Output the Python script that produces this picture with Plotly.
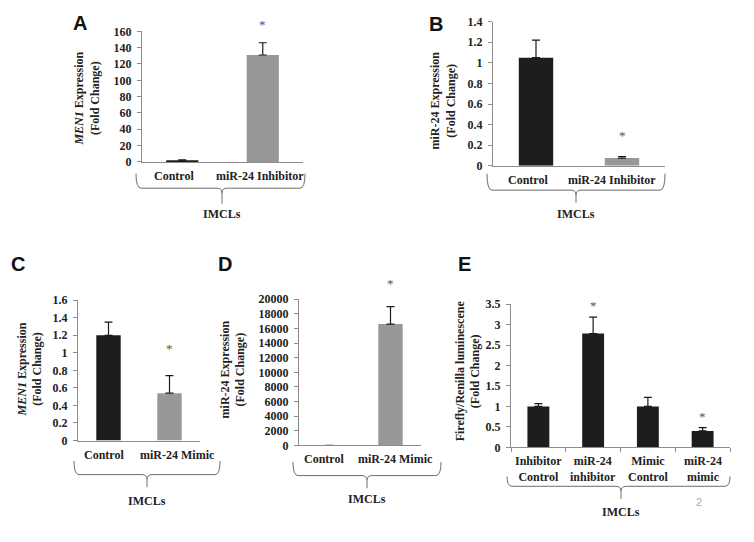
import plotly.graph_objects as go

W, H = 754, 542

# ---------------- data ----------------
a_cats = ["Control", "miR-24 Inhibitor"]
a_vals = [1.9, 131]
a_err = [0.6, 15]

b_cats = ["Control", "miR-24 Inhibitor"]
b_vals = [1.05, 0.075]
b_err = [0.17, 0.015]

c_cats = ["Control", "miR-24 Mimic"]
c_vals = [1.2, 0.54]
c_err = [0.15, 0.2]

d_cats = ["Control", "miR-24 Mimic"]
d_vals = [15, 16600]
d_err = [5, 2400]

e_cats = ["Inhibitor<br>Control", "miR-24<br>inhibitor", "Mimic<br>Control", "miR-24<br>mimic"]
e_vals = [1.0, 2.78, 1.0, 0.4]
e_err = [0.07, 0.4, 0.22, 0.08]

# significance markers (True => asterisk)
a_sig = [False, True]
b_sig = [False, True]
c_sig = [False, True]
d_sig = [False, True]
e_sig = [False, True, False, True]

y_ticks_a = [0, 20, 40, 60, 80, 100, 120, 140, 160]
y_ticks_b = [0, 0.2, 0.4, 0.6, 0.8, 1, 1.2, 1.4]
y_ticks_c = [0, 0.2, 0.4, 0.6, 0.8, 1, 1.2, 1.4, 1.6]
y_ticks_d = [0, 2000, 4000, 6000, 8000, 10000, 12000, 14000, 16000, 18000, 20000]
y_ticks_e = [0, 0.5, 1, 1.5, 2, 2.5, 3, 3.5]

BLACK = "#1f1c1d"
GRAY = "#989898"

# --------------- layout helpers (pixel -> paper) ---------------
def px(x):
    return x / W

def py(y):
    return 1 - y / H

SERIF = "Liberation Serif, Times New Roman, serif"
SANS = "Liberation Sans, Arial, sans-serif"

panels = [
    dict(letter="A", cats=a_cats, vals=a_vals, err=a_err, sig=a_sig,
         colors=[BLACK, GRAY], ticks=y_ticks_a, rng=[0, 160],
         box=(142, 303, 25, 159), title="<i>MEN1</i> Expression<br>(Fold Change)",
         title_xy=(87, 94), letter_xy=(80, 16), star_shift=9, lab_shift=[-8, -3],
         brace=(136, 305, 171, 186, 222, 202), imcl_y=213, xticks=False),
    dict(letter="B", cats=b_cats, vals=b_vals, err=b_err, sig=b_sig,
         colors=[BLACK, GRAY], ticks=y_ticks_b, rng=[0, 1.4],
         box=(493, 665, 15, 163), title="miR-24 Expression<br>(Fold Change)",
         title_xy=(443, 96), letter_xy=(436, 17), star_shift=12, lab_shift=[-8, -10],
         brace=(487, 665, 171, 188, 576, 201), imcl_y=213, xticks=False),
    dict(letter="C", cats=c_cats, vals=c_vals, err=c_err, sig=c_sig,
         colors=[BLACK, GRAY], ticks=y_ticks_c, rng=[0, 1.6],
         box=(78, 200, 301, 445), title="<i>MEN1</i> Expression<br>(Fold Change)",
         title_xy=(30, 372), letter_xy=(18, 264), star_shift=18, lab_shift=[-5, 8],
         brace=(74, 220, 466, 480, 147, 493), imcl_y=507, xticks=False),
    dict(letter="D", cats=d_cats, vals=d_vals, err=d_err, sig=d_sig,
         colors=[BLACK, GRAY], ticks=y_ticks_d, rng=[0, 20000],
         box=(299, 421, 300, 450), title="miR-24 Expression<br>(Fold Change)",
         title_xy=(233, 372), letter_xy=(225, 264), star_shift=14, lab_shift=[-6, 5],
         brace=(293, 441, 467, 481, 367, 494), imcl_y=505, xticks=False),
    dict(letter="E", cats=e_cats, vals=e_vals, err=e_err, sig=e_sig,
         colors=[BLACK] * 4, ticks=y_ticks_e, rng=[0, 3.5],
         box=(511, 730, 305, 452), title="Firefly/Renilla luminescene<br>(Fold Change)",
         title_xy=(468, 374), letter_xy=(464, 264), star_shift=2, lab_shift=[0, 0, 0, 0],
         brace=(507, 730, 482, 492, 621, 505), imcl_y=518, xticks=True),
]

fig = go.Figure()
annotations = []
shapes = []

for i, p in enumerate(panels):
    n = i + 1
    xa = "x" if n == 1 else f"x{n}"
    ya = "y" if n == 1 else f"y{n}"
    xl, xr, yt, yb = p["box"]
    lo = [0] * len(p["vals"])
    fig.add_trace(go.Bar(
        x=p["cats"], y=p["vals"], xaxis=xa, yaxis=ya,
        marker=dict(color=p["colors"], line=dict(width=0)),
        width=0.4,
        error_y=dict(type="data", symmetric=False, array=p["err"], arrayminus=lo,
                     color="#1a1a1a", thickness=1.2, width=4),
        showlegend=False, hoverinfo="x+y",
    ))
    axis_common = dict(showgrid=False, zeroline=False, showline=True,
                       linecolor="#8c8c8c", linewidth=1)
    fig.layout[f"xaxis{n if n > 1 else ''}"] = dict(
        domain=[px(xl), px(xr)], anchor=ya, type="category",
        range=[-0.5, len(p["cats"]) - 0.5],
        ticks="outside" if p["xticks"] else "", tickson="boundaries",
        ticklen=4, tickcolor="#8c8c8c", showticklabels=False,
        **axis_common)
    fig.layout[f"yaxis{n if n > 1 else ''}"] = dict(
        domain=[py(yb), py(yt)], anchor=xa, range=p["rng"],
        tickmode="array", tickvals=p["ticks"], tickformat="d" if n == 4 else "",
        ticks="outside", ticklen=4, tickcolor="#8c8c8c", ticklabelstandoff=3,
        tickfont=dict(family=SERIF, size=12, color="#222", weight="bold"),
        **axis_common)
    # category labels (as annotations so they can be nudged like the original)
    for c, sh in zip(p["cats"], p["lab_shift"]):
        annotations.append(dict(
            x=c, y=0, xref=xa, yref=ya, text=c, showarrow=False,
            xanchor="center", yanchor="top", yshift=-5, xshift=sh,
            font=dict(family=SERIF, size=12, color="#222", weight="bold")))
    # asterisks above significant bars
    for c, v, e, s in zip(p["cats"], p["vals"], p["err"], p["sig"]):
        if s:
            annotations.append(dict(
                x=c, y=v + e, xref=xa, yref=ya, text="*", showarrow=False,
                yanchor="bottom", yshift=p["star_shift"],
                font=dict(family=SERIF, size=13, color="#555")))
    # y-axis title
    tx, ty = p["title_xy"]
    annotations.append(dict(
        x=px(tx), y=py(ty), xref="paper", yref="paper", text=p["title"],
        textangle=-90, showarrow=False, xanchor="center", yanchor="middle",
        font=dict(family=SERIF, size=12, color="#222", weight="bold")))
    # panel letter
    lx, ly = p["letter_xy"]
    annotations.append(dict(
        x=px(lx), y=py(ly), xref="paper", yref="paper", text=p["letter"],
        showarrow=False, xanchor="center", yanchor="middle",
        font=dict(family=SANS, size=20, color="#111", weight="bold")))
    # brace
    bl, br, btop, bh, bc, bbot = p["brace"]
    r = 5
    path = (f"M {px(bl)},{py(btop)} Q {px(bl)},{py(bh)} {px(bl + r)},{py(bh)} "
            f"L {px(bc - r)},{py(bh)} Q {px(bc)},{py(bh)} {px(bc)},{py(bh + r)} "
            f"L {px(bc)},{py(bbot)} M {px(bc)},{py(bh + r)} "
            f"Q {px(bc)},{py(bh)} {px(bc + r)},{py(bh)} "
            f"L {px(br - r)},{py(bh)} Q {px(br)},{py(bh)} {px(br)},{py(btop)}")
    shapes.append(dict(type="path", path=path, xref="paper", yref="paper",
                       line=dict(color="#6e6e6e", width=1)))
    annotations.append(dict(
        x=px(bc), y=py(p["imcl_y"]), xref="paper", yref="paper", text="IMCLs",
        showarrow=False, xanchor="center", yanchor="middle",
        font=dict(family=SERIF, size=12, color="#222", weight="bold")))

# page number
annotations.append(dict(x=px(699), y=py(508), xref="paper", yref="paper", text="2",
                        showarrow=False, xanchor="center", yanchor="middle",
                        font=dict(family=SANS, size=11, color="#aaaaaa")))

fig.update_layout(width=W, height=H, margin=dict(l=0, r=0, t=0, b=0),
                  paper_bgcolor="white", plot_bgcolor="white",
                  annotations=annotations, shapes=shapes, bargap=0.6)

fig.write_html("out.html", config={"displayModeBar": False},
               post_script="document.body.style.margin='0';document.body.style.overflow='hidden';")
